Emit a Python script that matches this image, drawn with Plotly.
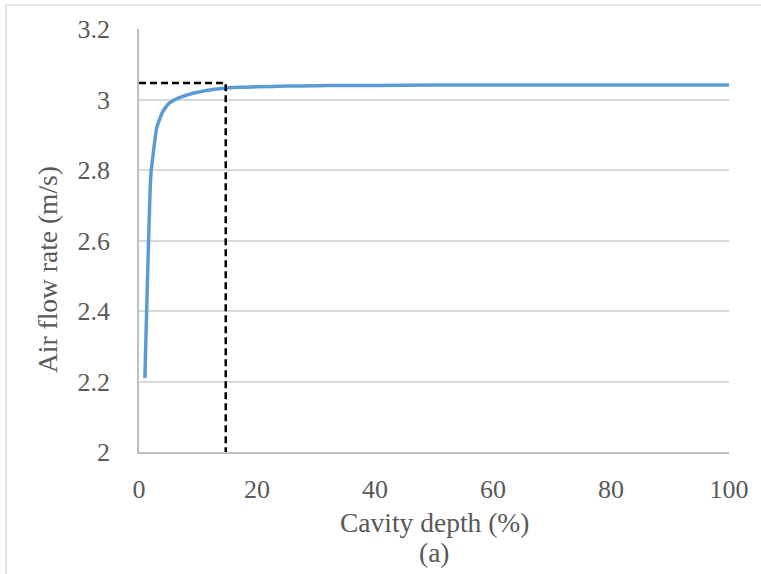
import plotly.graph_objects as go

depth = [1, 2, 3, 4, 5, 6, 7, 8, 9, 10, 12, 14, 16, 18, 20, 25, 30, 35, 40, 50, 60, 70, 80, 90, 100]
flow = [2.21, 2.785, 2.92, 2.965, 2.988, 2.999, 3.006, 3.012, 3.017, 3.021, 3.027, 3.031,
        3.034, 3.035, 3.036, 3.038, 3.039, 3.040, 3.040, 3.041, 3.041, 3.041, 3.041, 3.041, 3.041]
marker_x = 14.7
marker_y = 3.047

x_ticks = [0, 20, 40, 60, 80, 100]
y_ticks = [2, 2.2, 2.4, 2.6, 2.8, 3, 3.2]

FONT = "Times New Roman, Liberation Serif, DejaVu Serif, serif"
TXT = "#595959"
TICK_SIZE = 26
TITLE_SIZE = 27.5

fig = go.Figure()
fig.add_trace(go.Scatter(x=depth, y=flow, mode="lines",
                         line=dict(color="#5b9bd5", width=3.5, shape="spline", smoothing=0.3),
                         showlegend=False, hoverinfo="skip"))
fig.add_trace(go.Scatter(x=[0, marker_x, marker_x], y=[marker_y, marker_y, 2], mode="lines",
                         line=dict(color="black", width=2.5, dash="7px,4px"),
                         showlegend=False, hoverinfo="skip"))

fig.update_layout(
    width=761, height=574,
    margin=dict(l=139, r=32, t=29, b=122),
    paper_bgcolor="white", plot_bgcolor="white",
    font=dict(family=FONT, color=TXT, size=TICK_SIZE),
    xaxis=dict(range=[0, 100], tickvals=x_ticks, showgrid=False, zeroline=False,
               showline=True, linecolor="#bfbfbf", linewidth=1.5,
               ticks="", ticklabelstandoff=13,
               tickfont=dict(family=FONT, size=TICK_SIZE, color=TXT)),
    yaxis=dict(range=[2, 3.2], tickvals=y_ticks, showgrid=True, gridcolor="#d9d9d9",
               gridwidth=1.5, zeroline=False, showline=True, linecolor="#bfbfbf",
               linewidth=1.5, ticks="", ticklabelstandoff=22,
               tickfont=dict(family=FONT, size=TICK_SIZE, color=TXT)),
    annotations=[
        dict(text="Cavity depth (%)", xref="paper", yref="paper", x=0.5, y=-(522 - 452) / 423,
             xanchor="center", yanchor="middle", showarrow=False,
             font=dict(family=FONT, size=TITLE_SIZE, color=TXT)),
        dict(text="(a)", xref="paper", yref="paper", x=0.5, y=-(552 - 452) / 423,
             xanchor="center", yanchor="middle", showarrow=False,
             font=dict(family=FONT, size=TITLE_SIZE, color=TXT)),
        dict(text="Air flow rate (m/s)", xref="paper", yref="paper", x=(47 - 139) / 590,
             y=(452 - 270) / 423, xanchor="center", yanchor="middle", textangle=-90,
             showarrow=False, font=dict(family=FONT, size=TITLE_SIZE, color=TXT)),
    ],
    shapes=[
        dict(type="rect", xref="paper", yref="paper", x0=(6 - 139) / 590, x1=(780 - 139) / 590,
             y0=-(600 - 452) / 423, y1=(452 - 5) / 423, line=dict(color="#d9d9d9", width=1.5),
             fillcolor="rgba(0,0,0,0)", layer="below"),
    ],
)

fig.write_html("out.html")
